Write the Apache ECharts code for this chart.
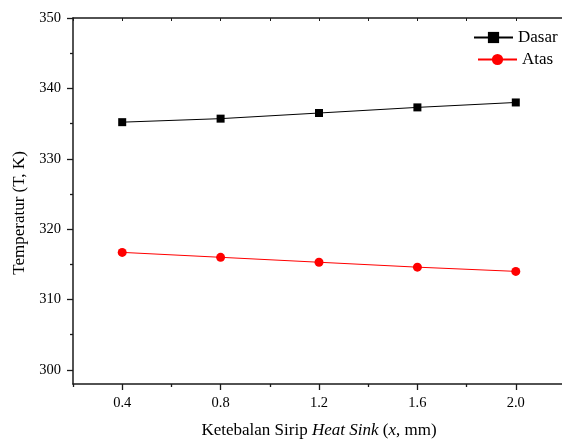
<!DOCTYPE html>
<html>
<head>
<meta charset="utf-8">
<script src="https://cdn.jsdelivr.net/npm/echarts@6/dist/echarts.min.js"></script>
<style>
html,body{margin:0;padding:0;background:#fff;}
#_chart{width:562px;height:439px;}
</style>
</head>
<body>
<div id="_chart"></div>
<script>
var xs = [0.4, 0.8, 1.2, 1.6, 2.0];
var dasar = [335.2, 335.7, 336.5, 337.3, 338.0];
var atas = [316.7, 316.0, 315.3, 314.6, 314.0];
var xMajor = [0.4, 0.8, 1.2, 1.6, 2.0];
var xMinor = [0.2, 0.6, 1.0, 1.4, 1.8, 2.2];
var xTop = [0.2, 0.4, 0.6, 0.8, 1.0, 1.2, 1.4, 1.6, 1.8, 2.0, 2.2];
var yMajor = [300, 310, 320, 330, 340, 350];
var yMinor = [305, 315, 325, 335, 345];

function pairs(vals){
	var out = [];
	for (var i = 0; i < xs.length; i++) out.push([xs[i], vals[i]]);
	return out;
}

var font = 'Liberation Serif';
var axisCol = '#1a1a1a';

var _chart = echarts.init(document.getElementById('_chart'));
var _chart_option = {
	backgroundColor: '#fff',
	animation: false,
	textStyle: {fontFamily: font, color: '#000'},
	grid: {left: 73, top: 18, right: -3, bottom: 55, outerBoundsMode: 'none'},
	legend: [
		{
			data: ['Dasar'], left: 473, top: 29, padding: 0,
			itemWidth: 39, itemHeight: 14, itemGap: 5,
			textStyle: {fontFamily: font, fontSize: 17, color: '#000'}
		},
		{
			data: ['Atas'], left: 477, top: 51, padding: 0,
			itemWidth: 39, itemHeight: 14, itemGap: 5,
			textStyle: {fontFamily: font, fontSize: 17, color: '#000'}
		}
	],
	xAxis: [
		{
			type: 'value', position: 'bottom', min: 0.2, max: 2.2,
			name: 'Ketebalan Sirip {i|Heat Sink} ({i|x}, mm)',
			nameLocation: 'middle', nameGap: 38,
			nameTextStyle: {fontFamily: font, fontSize: 17, color: '#000',
				rich: {i: {fontFamily: font, fontSize: 17, fontStyle: 'italic', color: '#000'}}},
			axisLine: {show: true, onZero: false, lineStyle: {color: axisCol, width: 1.5}},
			axisTick: {show: true, inside: false, length: 6, customValues: xMajor, lineStyle: {color: axisCol, width: 1.3}},
			axisLabel: {show: true, margin: 12, fontFamily: font, fontSize: 14.5, color: '#000', customValues: xMajor,
				formatter: function(v){ return v.toFixed(1); }},
			splitLine: {show: false}
		},
		{
			type: 'value', position: 'bottom', min: 0.2, max: 2.2,
			axisLine: {show: false},
			axisTick: {show: true, inside: false, length: 3, customValues: xMinor, lineStyle: {color: axisCol, width: 1.3}},
			axisLabel: {show: false},
			splitLine: {show: false}
		},
		{
			type: 'value', position: 'top', min: 0.2, max: 2.2,
			axisLine: {show: true, onZero: false, lineStyle: {color: axisCol, width: 1.5}},
			axisTick: {show: true, inside: true, length: 3, customValues: xTop, lineStyle: {color: axisCol, width: 1}},
			axisLabel: {show: false},
			splitLine: {show: false}
		}
	],
	yAxis: [
		{
			type: 'value', position: 'left', min: 298, max: 350,
			name: 'Temperatur (T, K)', nameLocation: 'middle', nameGap: 44, nameRotate: 90,
			nameTextStyle: {fontFamily: font, fontSize: 17, color: '#000', padding: [0, 24, 0, 0]},
			axisLine: {show: true, onZero: false, lineStyle: {color: axisCol, width: 1.5}},
			axisTick: {show: true, inside: false, length: 6, customValues: yMajor, lineStyle: {color: axisCol, width: 1.3}},
			axisLabel: {show: true, margin: 12, fontFamily: font, fontSize: 14.5, color: '#000', customValues: yMajor},
			splitLine: {show: false}
		},
		{
			type: 'value', position: 'left', min: 298, max: 350,
			axisLine: {show: false},
			axisTick: {show: true, inside: false, length: 3, customValues: yMinor, lineStyle: {color: axisCol, width: 1.3}},
			axisLabel: {show: false},
			splitLine: {show: false}
		}
	],
	series: [
		{
			name: 'Dasar', type: 'line', data: pairs(dasar),
			symbol: 'rect', symbolSize: 8,
			itemStyle: {color: '#000'},
			lineStyle: {color: '#000', width: 1}
		},
		{
			name: 'Atas', type: 'line', data: pairs(atas),
			symbol: 'circle', symbolSize: 9,
			itemStyle: {color: '#ff0000'},
			lineStyle: {color: '#ff0000', width: 1}
		}
	]
};
_chart.setOption(_chart_option);
</script>
</body>
</html>
